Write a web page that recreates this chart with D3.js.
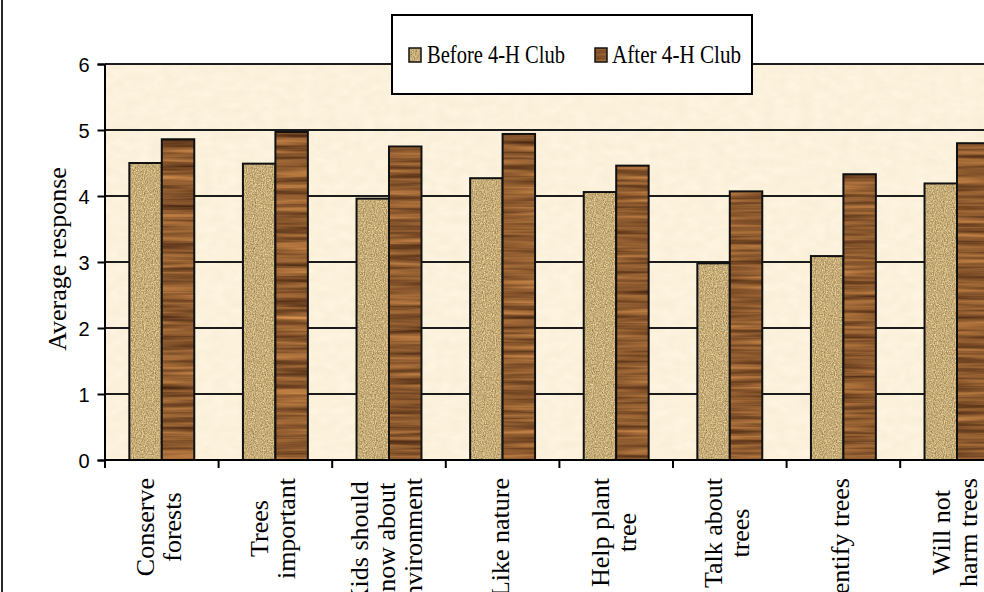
<!DOCTYPE html>
<html>
<head>
<meta charset="utf-8">
<script src="https://cdn.jsdelivr.net/npm/d3@7"></script>
<style>
  html, body { margin: 0; padding: 0; background: #fff; overflow: hidden; }
  svg { display: block; }
</style>
</head>
<body>
<svg id="chart" width="984" height="592"></svg>
<script>
// Survey statements (line breaks mark wrapped axis labels)
const categories = [
  "Conserve\nforests",
  "Trees\nimportant",
  "Kids should\nknow about\nenvironment",
  "Like nature",
  "Help plant\ntree",
  "Talk about\ntrees",
  "Identify trees",
  "Will not\nharm trees"
];
const seriesNames = ["Before 4-H Club", "After 4-H Club"];
const beforeValues = [4.50, 4.49, 3.96, 4.27, 4.06, 2.98, 3.09, 4.19];
const afterValues  = [4.86, 4.97, 4.75, 4.94, 4.46, 4.07, 4.33, 4.80];
const yTicks = [0, 1, 2, 3, 4, 5, 6];
const yTitle = "Average response";

const svg = d3.select("#chart");
const W = 984, H = 592;

// ---- textures -------------------------------------------------------
const defs = svg.append("defs");

function textureFilter(id, freq, octaves, seed, matrix) {
  const f = defs.append("filter")
    .attr("id", id)
    .attr("filterUnits", "userSpaceOnUse")
    .attr("x", 0).attr("y", 0).attr("width", W).attr("height", H)
    .attr("color-interpolation-filters", "sRGB");
  f.append("feTurbulence")
    .attr("type", "fractalNoise")
    .attr("baseFrequency", freq)
    .attr("numOctaves", octaves)
    .attr("seed", seed)
    .attr("result", "noise");
  f.append("feColorMatrix")
    .attr("in", "noise")
    .attr("type", "matrix")
    .attr("values", matrix)
    .attr("result", "tint");
  f.append("feComposite")
    .attr("in", "tint")
    .attr("in2", "SourceAlpha")
    .attr("operator", "in");
}
// wood grain for the "after" bars (long horizontal streaks)
textureFilter("wood", "0.008 0.2", 3, 7,
  "0.70 0 0 0 0.20  0.52 0 0 0 0.09  0.30 0 0 0 0.03  0 0 0 0 1");
// burlap for the "before" bars
textureFilter("burlap", "0.9 0.7", 2, 3,
  "0.55 0 0 0 0.50  0.55 0 0 0 0.40  0.5 0 0 0 0.22  0 0 0 0 1");
// parchment for the plot area
textureFilter("parchment", "0.08 0.12", 2, 11,
  "0.03 0 0 0 0.972  0.04 0 0 0 0.925  0.06 0 0 0 0.83  0 0 0 0 1");

// ---- scales ---------------------------------------------------------
const plotLeft = 105, plotTop = 64, plotBottom = 460;
const x = d3.scaleBand().domain(categories).range([plotLeft, plotLeft + 113.6 * categories.length])
  .paddingInner(0).paddingOuter(0);
const xs = d3.scaleBand().domain(seriesNames).range([0, x.bandwidth()])
  .paddingInner(0).paddingOuter(0.75);
const y = d3.scaleLinear().domain([0, 6]).range([plotBottom, plotTop]);
const plotRight = x.range()[1];

// outer chart border (left edge visible)
svg.append("line").attr("x1", 2).attr("x2", 2).attr("y1", 0).attr("y2", H)
  .attr("stroke", "#2a2a2a").attr("stroke-width", 2);

// plot background
svg.append("rect")
  .attr("x", plotLeft).attr("y", plotTop)
  .attr("width", plotRight - plotLeft).attr("height", plotBottom - plotTop)
  .attr("fill", "#fcf1db")
  .attr("filter", "url(#parchment)");

// gridlines
svg.append("g").selectAll("line").data(yTicks.filter(d => d > 0)).join("line")
  .attr("x1", plotLeft).attr("x2", plotRight)
  .attr("y1", d => y(d)).attr("y2", d => y(d))
  .attr("stroke", "#1c1c1c").attr("stroke-width", 1.8);

// bars
const series = [
  { name: seriesNames[0], values: beforeValues, filter: "url(#burlap)" },
  { name: seriesNames[1], values: afterValues, filter: "url(#wood)" }
];
series.forEach(s => {
  const rows = categories.map((c, i) => ({ c, v: s.values[i] }));
  svg.append("g").attr("filter", s.filter)
    .selectAll("rect").data(rows).join("rect")
    .attr("x", d => x(d.c) + xs(s.name))
    .attr("y", d => y(d.v))
    .attr("width", xs.bandwidth())
    .attr("height", d => y(0) - y(d.v))
    .attr("fill", "#000");
  svg.append("g")
    .selectAll("rect").data(rows).join("rect")
    .attr("x", d => x(d.c) + xs(s.name))
    .attr("y", d => y(d.v))
    .attr("width", xs.bandwidth())
    .attr("height", d => y(0) - y(d.v))
    .attr("fill", "none")
    .attr("stroke", "#111").attr("stroke-width", 2);
});

// y axis
const yAxis = svg.append("g")
  .attr("transform", `translate(${plotLeft - 0.5},0)`)
  .call(d3.axisLeft(y).tickValues(yTicks).tickSize(7).tickPadding(8).tickFormat(d3.format("d")));
yAxis.select(".domain").attr("stroke", "#000").attr("stroke-width", 2);
yAxis.selectAll(".tick line").attr("stroke", "#000").attr("stroke-width", 2);
yAxis.selectAll(".tick text")
  .attr("font-family", "'Liberation Sans', Arial, sans-serif")
  .attr("font-size", 20).attr("fill", "#000").attr("dy", "0.36em");

// x axis baseline and boundary ticks
svg.append("line")
  .attr("x1", plotLeft - 1).attr("x2", plotRight)
  .attr("y1", plotBottom).attr("y2", plotBottom)
  .attr("stroke", "#000").attr("stroke-width", 2);
const bounds = categories.map(c => x(c)).concat([plotRight]);
svg.append("g").selectAll("line").data(bounds).join("line")
  .attr("x1", d => d).attr("x2", d => d)
  .attr("y1", plotBottom).attr("y2", plotBottom + 8)
  .attr("stroke", "#000").attr("stroke-width", 2);

// category labels (rotated, lines centred on each other)
const labelTop = 478, lineStep = 27;
svg.append("g").selectAll("g").data(categories).join("g").each(function (c) {
  const g = d3.select(this);
  const lines = c.split("\n");
  const cx = x(c) + x.bandwidth() / 2;
  const texts = lines.map((t, i) => g.append("text")
    .attr("transform", `translate(${cx + (i - (lines.length - 1) / 2) * lineStep + 6},0) rotate(-90)`)
    .attr("font-family", "'Liberation Serif', 'Times New Roman', serif")
    .attr("font-size", 26)
    .attr("fill", "#000")
    .attr("text-anchor", "middle")
    .text(t));
  const maxW = d3.max(texts, t => t.node().getComputedTextLength());
  texts.forEach(t => t.attr("x", -(labelTop + maxW / 2)));
});

// y axis title
svg.append("text")
  .attr("transform", `translate(66,${(plotTop + plotBottom) / 2 - 3}) rotate(-90)`)
  .attr("text-anchor", "middle")
  .attr("font-family", "'Liberation Serif', 'Times New Roman', serif")
  .attr("font-size", 26)
  .attr("fill", "#000")
  .text(yTitle);

// legend
const legend = svg.append("g");
legend.append("rect")
  .attr("x", 392).attr("y", 15).attr("width", 360).attr("height", 79)
  .attr("fill", "#fff").attr("stroke", "#000").attr("stroke-width", 2);
const legendItems = [
  { name: seriesNames[0], filter: "url(#burlap)", sx: 409, tx: 427, tw: 138 },
  { name: seriesNames[1], filter: "url(#wood)", sx: 595, tx: 612, tw: 129 }
];
legendItems.forEach(d => {
  legend.append("rect").attr("x", d.sx).attr("y", 48).attr("width", 12).attr("height", 14)
    .attr("fill", "#000").attr("filter", d.filter);
  legend.append("rect").attr("x", d.sx).attr("y", 48).attr("width", 12).attr("height", 14)
    .attr("fill", "none").attr("stroke", "#111").attr("stroke-width", 1.5);
  legend.append("text")
    .attr("x", d.tx).attr("y", 62.5)
    .attr("font-family", "'Liberation Serif', 'Times New Roman', serif")
    .attr("font-size", 25)
    .attr("textLength", d.tw).attr("lengthAdjust", "spacingAndGlyphs")
    .attr("fill", "#000")
    .text(d.name);
});
</script>
</body>
</html>
